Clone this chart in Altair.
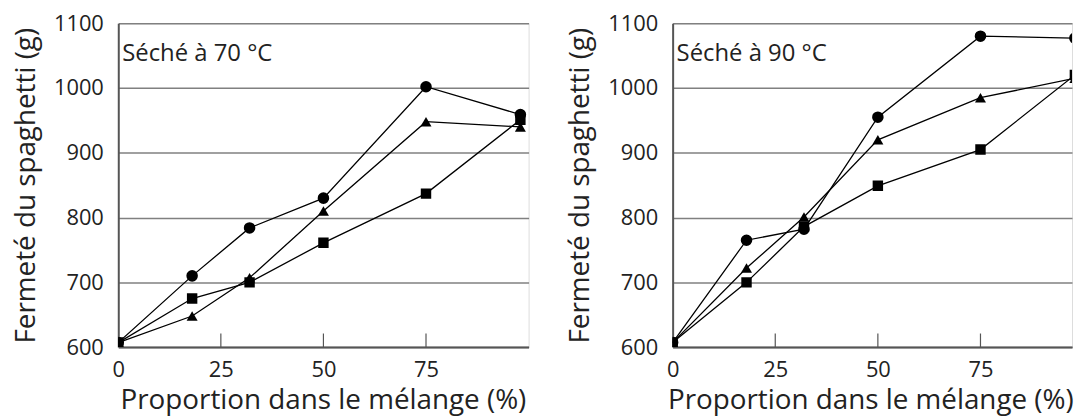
import altair as alt
import pandas as pd

# ---- data ----
proportion = [0, 18, 32, 50, 75, 98]
series = ["cercle", "triangle", "carré"]

f70_cercle = [607, 710, 784, 830, 1002, 959]
f70_triangle = [607, 648, 707, 810, 948, 940]
f70_carre = [607, 675, 700, 761, 837, 951]

f90_cercle = [607, 765, 782, 955, 1080, 1077]
f90_triangle = [607, 722, 801, 920, 985, 1015]
f90_carre = [607, 700, 786, 849, 905, 1020]

x_labels = [0, 25, 50, 75]
x_inner_ticks = [25, 50, 75]
y_ticks = [600, 700, 800, 900, 1000, 1100]

panel_labels = ["Séché à 70 °C", "Séché à 90 °C"]
x_title = "Proportion dans le mélange (%)"
y_title = "Fermeté du spaghetti (g)"

FONT = "Open Sans"


def make_df(c, t, s):
    rows = []
    for name, vals in zip(series, [c, t, s]):
        for xv, yv in zip(proportion, vals):
            rows.append({"x": xv, "y": yv, "serie": name})
    return pd.DataFrame(rows)


def panel(df, label, xmax, width, title_x):
    xs = alt.Scale(domain=[0, xmax], nice=False, zero=False)
    ys = alt.Scale(domain=[600, 1100], nice=False, zero=False)
    xenc = alt.X("x:Q", scale=xs, axis=alt.Axis(
        values=x_labels, ticks=False, grid=False, title=x_title,
        labelFontSize=22, titleFontSize=28, labelFont=FONT, titleFont=FONT,
        titleFontWeight="normal", labelColor="#222", titleColor="#222",
        domainColor="#555", domainWidth=2, labelPadding=13, titlePadding=6,
        labelFlush=False, format="d", titleX=title_x))
    yenc = alt.Y("y:Q", scale=ys, axis=alt.Axis(
        values=y_ticks, ticks=False, grid=True, gridColor="#808080",
        gridWidth=1.5, title=y_title, labelFontSize=22, titleFontSize=28,
        labelFont=FONT, titleFont=FONT, titleFontWeight="normal",
        labelColor="#222", titleColor="#222", domainColor="#555",
        domainWidth=2, labelPadding=15, titlePadding=13, labelFlush=False,
        format="d"))
    base = alt.Chart(df)
    lines = base.mark_line(color="black", strokeWidth=1.3, clip=True).encode(
        x=xenc, y=yenc, detail="serie:N", order="x:Q")
    pts = base.mark_point(filled=True, color="black", opacity=1, clip=True).encode(
        x=xenc, y=yenc,
        shape=alt.Shape("serie:N", scale=alt.Scale(
            domain=series, range=["circle", "triangle-up", "square"]), legend=None),
        size=alt.Size("serie:N", scale=alt.Scale(
            domain=series, range=[135, 110, 125]), legend=None))
    tdf = pd.DataFrame({"x": x_inner_ticks, "y": [600] * 3, "y2": [621] * 3})
    ticks = alt.Chart(tdf).mark_rule(color="#555", strokeWidth=1.2).encode(
        x=alt.X("x:Q", scale=xs), y=alt.Y("y:Q", scale=ys), y2="y2:Q")
    txt = alt.Chart(pd.DataFrame({"t": [label]})).mark_text(
        align="left", baseline="middle", fontSize=24, font=FONT,
        color="#222").encode(text="t:N", x=alt.value(4), y=alt.value(31))
    return alt.layer(ticks, lines, pts, txt).properties(width=width, height=326)


left = panel(make_df(f70_cercle, f70_triangle, f70_carre), panel_labels[0], 100, 413, 206)
right = panel(make_df(f90_cercle, f90_triangle, f90_carre), panel_labels[1], 97.3, 402, 199)

chart = alt.hconcat(left, right, spacing=37).properties(
    padding={"left": 4, "top": 2, "right": 0, "bottom": 0}
).configure_view(stroke="#9a9a9a", strokeWidth=1.5).configure(
    background="white")

chart.save("out.html", embed_options={"renderer": "svg", "actions": False})
